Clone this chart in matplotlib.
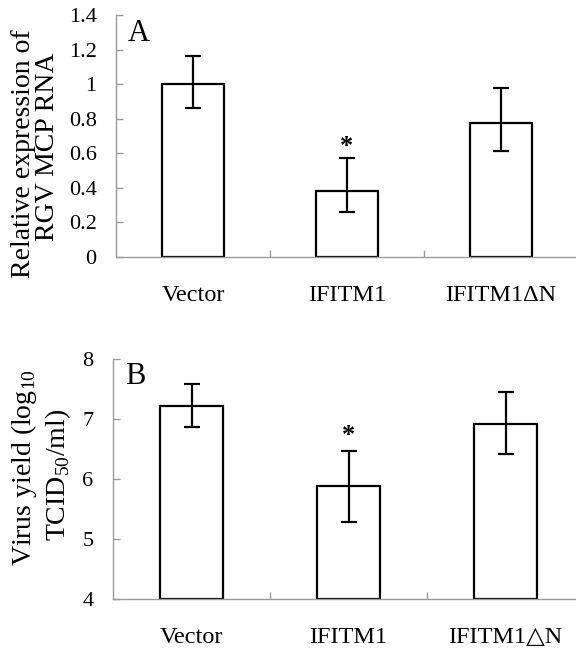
import matplotlib
matplotlib.use("Agg")
import matplotlib.pyplot as plt
import numpy as np

plt.rcParams['font.family'] = ['Liberation Serif', 'DejaVu Serif']
plt.rcParams['mathtext.fontset'] = 'custom'
plt.rcParams['mathtext.rm'] = 'Liberation Serif'

categories_a = ["Vector", "IFITM1", "IFITM1ΔN"]
values_a = [1.0, 0.38, 0.775]
err_low_a = [0.14, 0.12, 0.16]
err_high_a = [0.16, 0.19, 0.20]
yticks_a = [0, 0.2, 0.4, 0.6, 0.8, 1, 1.2, 1.4]
yticklabels_a = ["0", "0.2", "0.4", "0.6", "0.8", "1", "1.2", "1.4"]

categories_b = ["Vector", "IFITM1", "IFITM1△N"]
values_b = [7.22, 5.88, 6.92]
err_low_b = [0.36, 0.60, 0.50]
err_high_b = [0.36, 0.58, 0.53]
yticks_b = [4, 5, 6, 7, 8]

star_a = 0.64
star_b = 6.72

W, H = 576, 653
fig = plt.figure(figsize=(W/100, H/100), dpi=100)

axA = fig.add_axes([116/W, 1-257/H, 462/W, 242/H])
axB = fig.add_axes([113/W, 1-599/H, 471/W, 240/H])

GRAY = '#9a9a9a'
FS = 16

def style(ax, cats, vals, lo, hi, yt, ytl, ylim, star_y, letter):
    x = np.arange(len(cats))
    ax.bar(x, [v - ylim[0] for v in vals], bottom=ylim[0], width=0.4,
           color='white', edgecolor='black', linewidth=1.6, zorder=2)
    ax.errorbar(x, vals, yerr=[lo, hi], fmt='none', ecolor='black',
                elinewidth=1.6, capsize=6, capthick=1.6, zorder=3)
    ax.text(1, star_y, "*", ha='center', va='center', fontsize=19,
            fontweight='bold', zorder=4)
    ax.set_xlim(-0.5, 2.5)
    ax.set_ylim(*ylim)
    ax.set_yticks(yt)
    ax.set_yticklabels(ytl)
    ax.set_xticks(x)
    ax.set_xticklabels(cats)
    ax.set_xticks([0.5, 1.5], minor=True)
    ax.tick_params(axis='x', which='major', length=0, pad=20, labelsize=17.5)
    ax.tick_params(axis='x', which='minor', direction='in', length=5,
                   color=GRAY, width=1)
    ax.tick_params(axis='y', direction='in', length=5, color=GRAY, width=1,
                   pad=14, labelsize=FS)
    for s in ['top', 'right']:
        ax.spines[s].set_visible(False)
    for s in ['left', 'bottom']:
        ax.spines[s].set_color(GRAY)
        ax.spines[s].set_linewidth(1)
    ax.text(0.025, 0.925, letter, transform=ax.transAxes, fontsize=22,
            ha='left', va='center')

style(axA, categories_a, values_a, err_low_a, err_high_a, yticks_a,
      yticklabels_a, (0, 1.4), star_a, "A")
style(axB, categories_b, values_b, err_low_b, err_high_b, yticks_b,
      [str(t) for t in yticks_b], (4, 8), star_b, "B")

fig.text(24/W, 1-154/H, "Relative expression of", rotation=90,
         ha='center', va='center', fontsize=20)
fig.text(48/W, 1-147/H, "RGV MCP RNA", rotation=90,
         ha='center', va='center', fontsize=20)
fig.text(24/W, 1-468/H, r"Virus yield (log$_{\mathregular{10}}$", rotation=90,
         ha='center', va='center', fontsize=20)
fig.text(58/W, 1-475/H, r"TCID$_{\mathregular{50}}$/ml)", rotation=90,
         ha='center', va='center', fontsize=20)

fig.savefig("out.png", dpi=100, facecolor='white')
